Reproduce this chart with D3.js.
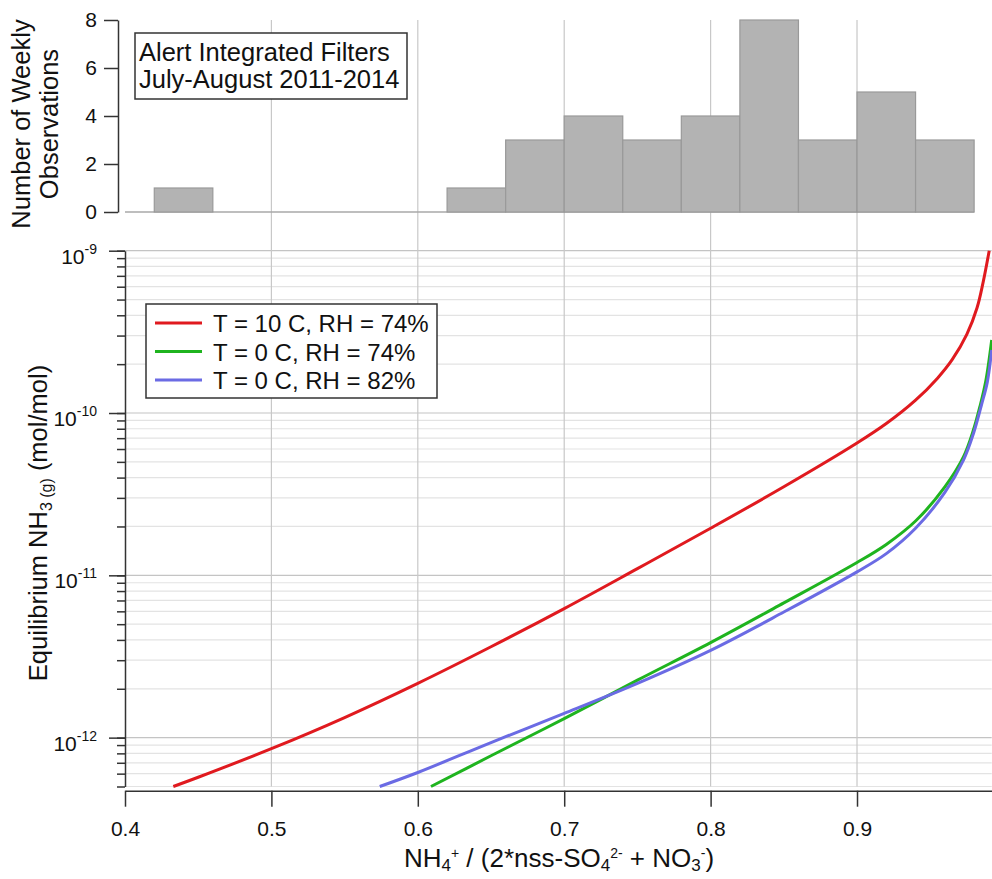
<!DOCTYPE html>
<html>
<head>
<meta charset="utf-8">
<script src="https://cdn.jsdelivr.net/npm/d3@7/dist/d3.min.js"></script>
<style>
    body{margin:0;background:#fff;}
    svg{display:block;font-family:"Liberation Sans",Arial,sans-serif;}
</style>
</head>
<body>
<svg width="992" height="879"></svg>
<script>
// histogram of weekly filter ratios (left bin edge, count)
var binStarts=[0.42,0.46,0.50,0.54,0.58,0.62,0.66,0.70,0.74,0.78,0.82,0.86,0.90,0.94];
var binCounts=[1,0,0,0,0,1,3,4,3,4,8,3,5,3];
var binWidth=0.04;

// equilibrium NH3 curves
var redX=[0.433,0.45,0.5,0.55,0.6,0.65,0.7,0.75,0.8,0.85,0.9,0.92,0.94,0.955,0.965,0.975,0.982,0.9862,0.9903];
var redY=[5.0e-13,5.7e-13,8.55e-13,1.33e-12,2.16e-12,3.63e-12,6.24e-12,1.10e-11,1.95e-11,3.51e-11,6.53e-11,8.61e-11,1.2e-10,1.64e-10,2.13e-10,3.05e-10,4.45e-10,6.43e-10,1.0e-9];

var greenX=[0.609,0.65,0.7,0.75,0.8,0.85,0.9,0.92,0.94,0.96,0.9727,0.9795,0.984,0.988,0.992];
var greenY=[5.0e-13,7.73e-13,1.31e-12,2.26e-12,3.85e-12,6.76e-12,1.2e-11,1.55e-11,2.16e-11,3.51e-11,5.37e-11,7.85e-11,1.10e-10,1.58e-10,2.82e-10];

var blueX=[0.574,0.6,0.65,0.7,0.75,0.8,0.85,0.9,0.92,0.94,0.96,0.9727,0.9795,0.985,0.989,0.992];
var blueY=[5.0e-13,6.1e-13,9.33e-13,1.41e-12,2.16e-12,3.45e-12,5.94e-12,1.05e-11,1.36e-11,1.95e-11,3.24e-11,5.13e-11,7.46e-11,1.12e-10,1.55e-10,2.45e-10];

var seriesNames=["T = 10 C, RH = 74%","T = 0 C, RH = 74%","T = 0 C, RH = 82%"];
var seriesColors=["#e01a1f","#1fb41f","#6b6be4"];

var xTickValues=[0.4,0.5,0.6,0.7,0.8,0.9];
var xGridValues=[0.5,0.6,0.7,0.8,0.9];
var histTickValues=[0,2,4,6,8];
var yMajorExps=[-12,-11,-10,-9];

var annotationLines=["Alert Integrated Filters","July-August 2011-2014"];

var axisColor="#333";
var textColor="#111";

var svg=d3.select("svg");

// scales
var x=d3.scaleLinear().domain([0.4,0.992]).range([125,991.7]);
var yH=d3.scaleLinear().domain([0,8]).range([212,20]);
var y=d3.scaleLog().domain([5e-13,1e-9]).range([786.5,250.7]);

// all 1..9 x decade values inside the log domain
var yMinor=[];
[-13].concat(yMajorExps).forEach(function(e){
    for(var m=1;m<=9;m++){
        var v=m*Math.pow(10,e);
        if(v>=5e-13*0.999 && v<=1e-9*1.001) yMinor.push(v);
    }
});
var yMajor=yMajorExps.map(function(e){return Math.pow(10,e);});
function isMajor(d){return yMajor.some(function(m){return Math.abs(m-d)/m<1e-6;});}

//Grid
var grid=svg.append("g").attr("class","grid");
grid.selectAll("line.hgrid")
    .data(yMinor)
    .enter()
    .append("line")
    .attr("class","hgrid")
    .attr("x1",x.range()[0]).attr("x2",x.range()[1])
    .attr("y1",function(d){return y(d);}).attr("y2",function(d){return y(d);})
    .attr("stroke",function(d){return isMajor(d)?"#c4c4c4":"#e3e3e3";})
    .attr("stroke-width",1.2);

grid.selectAll("line.vgrid")
    .data(xGridValues)
    .enter()
    .append("line")
    .attr("class","vgrid")
    .attr("x1",function(d){return x(d);}).attr("x2",function(d){return x(d);})
    .attr("y1",20).attr("y2",786.5)
    .attr("stroke","#c8c8c8")
    .attr("stroke-width",1.2);

//Histogram
var bins=binStarts.map(function(s,i){return {x0:s,x1:s+binWidth,count:binCounts[i]};});

svg.append("line")
    .attr("x1",x(0.4)).attr("x2",x(0.98))
    .attr("y1",yH(0)).attr("y2",yH(0))
    .attr("stroke","#a8a8a8")
    .attr("stroke-width",1.5);

svg.append("g").selectAll("rect")
    .data(bins.filter(function(d){return d.count>0;}))
    .enter()
    .append("rect")
    .attr("x",function(d){return x(d.x0);})
    .attr("width",function(d){return x(d.x1)-x(d.x0);})
    .attr("y",function(d){return yH(d.count);})
    .attr("height",function(d){return yH(0)-yH(d.count);})
    .style("fill","#b3b3b3")
    .attr("stroke","#999")
    .attr("stroke-width",1.2);

var histAxis=svg.append("g")
    .attr("transform","translate(118,0)")
    .call(d3.axisLeft(yH).tickValues(histTickValues).tickSize(14).tickSizeOuter(0).tickPadding(7));

//Curves
svg.append("clipPath").attr("id","plotClip")
    .append("rect")
    .attr("x",x.range()[0]).attr("y",y.range()[1]-2)
    .attr("width",x.range()[1]-x.range()[0]+2)
    .attr("height",y.range()[0]-y.range()[1]+4);

var line=d3.line()
    .x(function(d){return x(d[0]);})
    .y(function(d){return y(d[1]);})
    .curve(d3.curveCatmullRom.alpha(0.5));

var curves=[d3.zip(redX,redY),d3.zip(greenX,greenY),d3.zip(blueX,blueY)];

svg.append("g").attr("clip-path","url(#plotClip)")
    .selectAll("path")
    .data(curves)
    .enter()
    .append("path")
    .attr("d",line)
    .attr("fill","none")
    .attr("stroke",function(d,i){return seriesColors[i];})
    .attr("stroke-width",3);

//Axes
var yAxisMinor=svg.append("g")
    .attr("transform","translate(125,0)")
    .call(d3.axisLeft(y).tickValues(yMinor).tickSize(8).tickSizeOuter(0).tickFormat(""));
yAxisMinor.select(".domain").remove();

var yAxis=svg.append("g")
    .attr("transform","translate(125,0)")
    .call(d3.axisLeft(y).tickValues(yMajor).tickSize(16).tickSizeOuter(0).tickPadding(12));

var xAxis=svg.append("g")
    .attr("transform","translate(0,790.7)")
    .call(d3.axisBottom(x).tickValues(xTickValues).tickSize(16).tickSizeOuter(0).tickPadding(14).tickFormat(d3.format(".1f")));

[histAxis,yAxisMinor,yAxis,xAxis].forEach(function(a){
    a.selectAll("path,line").attr("stroke",axisColor).attr("stroke-width",1.5);
    a.selectAll("text").attr("fill",textColor).style("font-size","21px").attr("font-family",null);
});

// log labels as 10 with superscript
yAxis.selectAll(".tick text")
    .attr("dy",null)
    .attr("y",12.5)
    .each(function(d){
        var t=d3.select(this);
        var e=Math.round(Math.log10(d));
        t.text(null);
        t.append("tspan").text("10");
        t.append("tspan").attr("dy",-10).style("font-size","14px").text(e);
    });

//Axis titles
var histTitle=svg.append("g").style("font-size","25.5px").attr("fill",textColor);
histTitle.append("text")
    .attr("transform","translate(30,124) rotate(-90)")
    .attr("text-anchor","middle")
    .text("Number of Weekly");
histTitle.append("text")
    .attr("transform","translate(58,124) rotate(-90)")
    .attr("text-anchor","middle")
    .text("Observations");

var yTitle=svg.append("text")
    .attr("transform","translate(47,523) rotate(-90)")
    .attr("text-anchor","middle")
    .style("font-size","25.5px")
    .attr("fill",textColor);
yTitle.append("tspan").text("Equilibrium NH");
yTitle.append("tspan").attr("dy",5).style("font-size","16px").text("3 (g)");
yTitle.append("tspan").attr("dy",-5).text(" (mol/mol)");

var xTitle=svg.append("text")
    .attr("x",559).attr("y",867)
    .attr("text-anchor","middle")
    .style("font-size","26px")
    .attr("fill",textColor);
xTitle.append("tspan").text("NH");
xTitle.append("tspan").attr("dy",4).style("font-size","17px").text("4");
xTitle.append("tspan").attr("dy",-13).style("font-size","14px").text("+");
xTitle.append("tspan").attr("dy",9).text(" / (2*nss-SO");
xTitle.append("tspan").attr("dy",4).style("font-size","17px").text("4");
xTitle.append("tspan").attr("dy",-13).style("font-size","14px").text("2-");
xTitle.append("tspan").attr("dy",9).text(" + NO");
xTitle.append("tspan").attr("dy",4).style("font-size","17px").text("3");
xTitle.append("tspan").attr("dy",-13).style("font-size","14px").text("-");
xTitle.append("tspan").attr("dy",9).text(")");

//Annotation box
svg.append("rect")
    .attr("x",135).attr("y",33).attr("width",272).attr("height",66)
    .attr("fill","#fff").attr("stroke",axisColor).attr("stroke-width",1.5);
svg.selectAll("text.annot")
    .data(annotationLines)
    .enter()
    .append("text")
    .attr("class","annot")
    .attr("x",139)
    .attr("y",function(d,i){return 61+27*i;})
    .style("font-size","25.5px")
    .attr("fill",textColor)
    .text(function(d){return d;});

//Legend
var legend=svg.append("g").attr("class","legend");
legend.append("rect")
    .attr("x",146).attr("y",304).attr("width",291).attr("height",94)
    .attr("fill","#fff").attr("stroke",axisColor).attr("stroke-width",1.5);

var legendRows=legend.selectAll("g.row")
    .data(seriesNames)
    .enter()
    .append("g")
    .attr("class","row")
    .attr("transform",function(d,i){return "translate(0,"+(323+28.5*i)+")";});

legendRows.append("line")
    .attr("x1",155).attr("x2",202)
    .attr("stroke",function(d,i){return seriesColors[i];})
    .attr("stroke-width",3);

legendRows.append("text")
    .attr("x",213).attr("dy",9)
    .style("font-size","24px")
    .attr("fill",textColor)
    .text(function(d){return d;});
</script>
</body>
</html>
